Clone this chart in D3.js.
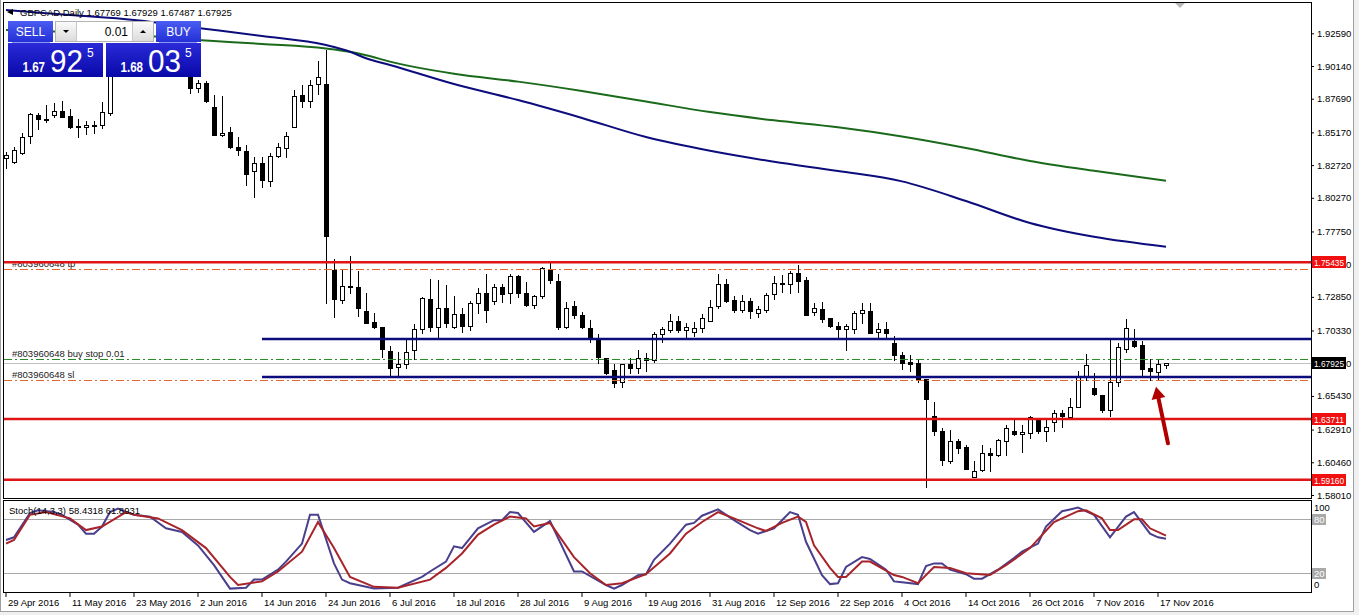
<!DOCTYPE html>
<html>
<head>
<meta charset="utf-8">
<script src="https://d3js.org/d3.v7.min.js"></script>
<style>
  body { margin: 0; background: #fff; }
  svg { display: block; font-family: "Liberation Sans", Arial, sans-serif; }
</style>
</head>
<body>
<div id="container"></div>
<script>
/* DATA */
const tickLabels = ["29 Apr 2016", "11 May 2016", "23 May 2016", "2 Jun 2016", "14 Jun 2016", "24 Jun 2016",
  "6 Jul 2016", "18 Jul 2016", "28 Jul 2016", "9 Aug 2016", "19 Aug 2016", "31 Aug 2016", "12 Sep 2016",
  "22 Sep 2016", "4 Oct 2016", "14 Oct 2016", "26 Oct 2016", "7 Nov 2016", "17 Nov 2016"]

const priceTicks = [1.92590, 1.90140, 1.87690, 1.85170, 1.82720, 1.80270, 1.77750, 1.75300,
  1.72850, 1.70330, 1.67880, 1.65430, 1.62910, 1.60460, 1.58010]

// daily OHLC, one entry per bar (29 Apr 2016 .. 18 Nov 2016)
const opens = [1.8325,1.8297,1.8365,1.8485,1.8647,1.8615,1.8652,1.8679,1.8640,1.8565,
  1.8552,1.8570,1.8570,1.8660,1.8962,1.8990,1.9030,1.9010,1.9070,1.9100,
  1.9150,1.9080,1.9020,1.8990,1.8847,1.8884,1.8705,1.8497,1.8518,1.8410,
  1.8377,1.8230,1.8290,1.8155,1.8340,1.8405,1.8559,1.8797,1.8754,1.8877,
  1.8879,1.7486,1.7261,1.7366,1.7357,1.7179,1.7094,1.7057,1.6879,1.6757,
  1.6782,1.6887,1.7042,1.7267,1.7057,1.7199,1.7057,1.7154,1.7067,1.7237,
  1.7312,1.7249,1.7357,1.7316,1.7441,1.7312,1.7224,1.7291,1.7486,1.7404,
  1.7057,1.7219,1.7147,1.7049,1.6967,1.6825,1.6737,1.6642,1.6780,1.6750,
  1.6825,1.6812,1.7004,1.7037,1.7104,1.7037,1.7016,1.7049,1.7106,1.7211,
  1.7379,1.7261,1.7187,1.7254,1.7162,1.7187,1.7304,1.7387,1.7379,1.7461,
  1.7411,1.7166,1.7192,1.7124,1.7067,1.7046,1.7049,1.7162,1.7179,1.7016,
  1.7042,1.6937,1.6849,1.6799,1.6787,1.6670,1.6393,1.6280,1.6058,1.6205,
  1.6163,1.5938,1.5983,1.6118,1.6100,1.6200,1.6280,1.6255,1.6263,1.6375,
  1.6280,1.6345,1.6413,1.6387,1.6462,1.6694,1.6600,1.6550,1.6438,1.6645,
  1.6892,1.6954,1.6924,1.6750,1.6720,1.67769]
const highs = [1.8370,1.8405,1.8510,1.8664,1.8664,1.8722,1.8735,1.8754,1.8692,1.8617,
  1.8604,1.8602,1.8744,1.8999,1.9020,1.9060,1.9080,1.9100,1.9140,1.9190,
  1.9210,1.9130,1.9060,1.9010,1.8909,1.8902,1.8797,1.8789,1.8555,1.8485,
  1.8422,1.8335,1.8335,1.8365,1.8435,1.8522,1.8834,1.8872,1.8909,1.9054,
  1.9134,1.7569,1.7491,1.7591,1.7479,1.7312,1.7162,1.7059,1.6917,1.6874,
  1.6962,1.7082,1.7286,1.7416,1.7411,1.7374,1.7291,1.7204,1.7256,1.7349,
  1.7454,1.7379,1.7379,1.7454,1.7449,1.7398,1.7299,1.7505,1.7548,1.7454,
  1.7249,1.7254,1.7174,1.7112,1.7007,1.6827,1.6780,1.6782,1.6825,1.6887,
  1.6867,1.7024,1.7061,1.7154,1.7142,1.7087,1.7099,1.7154,1.7261,1.7456,
  1.7416,1.7291,1.7299,1.7274,1.7216,1.7316,1.7441,1.7449,1.7481,1.7524,
  1.7431,1.7237,1.7244,1.7126,1.7099,1.7082,1.7181,1.7241,1.7241,1.7091,
  1.7099,1.6992,1.6874,1.6849,1.6817,1.6672,1.6500,1.6300,1.6288,1.6218,
  1.6175,1.6058,1.6175,1.6151,1.6218,1.6325,1.6363,1.6325,1.6393,1.6377,
  1.6363,1.6438,1.6438,1.6525,1.6730,1.6857,1.6717,1.6552,1.6962,1.6937,
  1.7119,1.7044,1.6954,1.6817,1.6812,1.67929]
const lows = [1.8250,1.8285,1.8353,1.8435,1.8542,1.8592,1.8634,1.8632,1.8547,1.8480,
  1.8502,1.8514,1.8547,1.8647,1.8940,1.8950,1.8970,1.8980,1.9020,1.9060,
  1.9050,1.8990,1.8950,1.8814,1.8822,1.8745,1.8495,1.8493,1.8400,1.8347,
  1.8123,1.8031,1.8110,1.8118,1.8335,1.8335,1.8555,1.8709,1.8709,1.8804,
  1.7237,1.7136,1.7241,1.7316,1.7142,1.7089,1.7052,1.6837,1.6700,1.6692,
  1.6750,1.6817,1.7012,1.7031,1.6987,1.7057,1.7049,1.7024,1.7037,1.7162,
  1.7099,1.7231,1.7249,1.7241,1.7282,1.7216,1.7199,1.7274,1.7391,1.7042,
  1.7049,1.7124,1.7049,1.6949,1.6787,1.6710,1.6608,1.6608,1.6717,1.6717,
  1.6732,1.6799,1.6949,1.7024,1.7024,1.6975,1.6992,1.7024,1.7104,1.7199,
  1.7247,1.7174,1.7174,1.7129,1.7136,1.7174,1.7269,1.7323,1.7316,1.7323,
  1.7147,1.7147,1.7099,1.7059,1.6987,1.6887,1.7012,1.7087,1.7014,1.6975,
  1.6975,1.6812,1.6742,1.6732,1.6650,1.5863,1.6250,1.6026,1.6043,1.6113,
  1.5994,1.5934,1.5981,1.5983,1.6095,1.6100,1.6253,1.6125,1.6226,1.6263,
  1.6208,1.6278,1.6312,1.6375,1.6458,1.6662,1.6550,1.6425,1.6393,1.6617,
  1.6874,1.6912,1.6687,1.6662,1.6662,1.67487]
const closes = [1.8347,1.8385,1.8485,1.8652,1.8615,1.8604,1.8679,1.8634,1.8559,1.8555,
  1.8570,1.8559,1.8667,1.8962,1.8990,1.9030,1.9010,1.9070,1.9100,1.9150,
  1.9080,1.9020,1.8990,1.8847,1.8884,1.8747,1.8497,1.8514,1.8402,1.8385,
  1.8203,1.8290,1.8160,1.8340,1.8405,1.8492,1.8792,1.8754,1.8872,1.8930,
  1.7741,1.7267,1.7366,1.7357,1.7199,1.7091,1.7054,1.6892,1.6754,1.6782,
  1.6870,1.7042,1.7274,1.7057,1.7199,1.7087,1.7154,1.7067,1.7237,1.7312,
  1.7187,1.7357,1.7306,1.7441,1.7312,1.7224,1.7291,1.7503,1.7411,1.7057,
  1.7199,1.7149,1.7057,1.6979,1.6832,1.6712,1.6642,1.6780,1.6750,1.6825,
  1.6807,1.7004,1.7042,1.7104,1.7037,1.7057,1.7049,1.7124,1.7211,1.7379,
  1.7249,1.7187,1.7256,1.7181,1.7192,1.7299,1.7387,1.7376,1.7461,1.7398,
  1.7149,1.7199,1.7119,1.7061,1.7046,1.7067,1.7166,1.7187,1.7016,1.7042,
  1.7012,1.6849,1.6787,1.6787,1.6662,1.6518,1.6282,1.6063,1.6205,1.6155,
  1.5996,1.5983,1.6113,1.6106,1.6213,1.6300,1.6255,1.6273,1.6383,1.6274,
  1.6308,1.6413,1.6387,1.6462,1.6694,1.6775,1.6557,1.6438,1.6645,1.6907,
  1.7049,1.6919,1.6745,1.6724,1.6782,1.67925]

// moving averages, read at every 8th bar
const maBars  = [0, 8, 16, 24, 32, 40, 43, 45, 48, 56, 64, 72, 80, 88, 96, 104, 112, 120, 128, 136, 145]
const maNavy  = [1.9433,1.9396,1.9359,1.9299,1.9239,1.9171,1.9121,1.9072,1.9022,1.8879,1.8759,1.8625,1.8482,1.8379,1.8297,1.8228,1.8150,1.8003,1.7838,1.7735,1.7661]
const maGreen = [1.9284,1.9269,1.9246,1.9209,1.9179,1.9145,1.9120,1.9095,1.9047,1.8956,1.8897,1.8827,1.8748,1.8669,1.8607,1.8555,1.8486,1.8400,1.8303,1.8229,1.8155]

// stochastic (14,3,3): [bar, value]
const stochK = [[0,57],[1,60],[3,87],[4,90],[6,88],[7,85],[9,74],[10,64],[11,64],[12,72],[13,88],[14,92],[15,88],[16,85],[18,83],[20,70],[22,66],[24,51],[26,29],[28,3],[30,4],[31,13],[32,13],[34,24],[35,33],[37,53],[38,85],[39,85],[41,31],[42,13],[43,9],[46,3],[49,4],[52,16],[53,22],[55,33],[56,50],[57,48],[59,70],[61,79],[62,79],[63,88],[64,87],[66,66],[68,78],[71,22],[72,22],[75,7],[76,3],[77,7],[79,18],[80,19],[81,35],[83,53],[85,74],[86,76],[87,84],[89,91],[91,79],[93,68],[94,64],[96,70],[97,79],[98,88],[99,85],[100,55],[102,18],[103,8],[104,9],[105,27],[107,38],[108,36],[110,24],[111,11],[112,10],[114,8],[115,28],[116,31],[117,31],[118,24],[120,19],[121,14],[122,14],[124,24],[126,37],[127,44],[129,53],[130,72],[132,89],[133,91],[134,93],[136,85],[138,60],[140,83],[141,88],[143,64],[144,60],[145,58.43]]
const stochD = [[0,53],[1,57],[3,85],[5,88],[8,81],[10,68],[12,72],[15,88],[16,85],[19,81],[22,68],[25,48],[28,16],[29,7],[32,11],[34,22],[37,44],[39,77],[41,48],[43,16],[46,5],[49,4],[53,13],[55,26],[56,34],[57,42],[59,63],[61,74],[63,83],[65,81],[66,72],[68,76],[71,38],[73,20],[75,7],[77,9],[80,19],[83,42],[85,64],[87,77],[89,88],[91,81],[94,70],[95,67],[97,76],[99,83],[100,77],[101,51],[103,26],[104,16],[105,16],[107,33],[108,33],[111,18],[112,16],[114,9],[116,27],[118,26],[120,20],[123,18],[125,29],[128,48],[131,77],[134,89],[135,90],[137,81],[138,68],[139,68],[141,80],[142,80],[143,70],[145,61.89]]

// horizontal price levels
const redLevels = [1.75435, 1.63711, 1.59160]
const orderLevels = [
  { name: "#803960648 tp", price: 1.7496, color: "#e2692e" },
  { name: "#803960648 buy stop 0.01", price: 1.6817, color: "#2a8a2a" },
  { name: "#803960648 sl", price: 1.6660, color: "#e2692e" }
]
const trendLevels = [1.6970, 1.66849]
const bid = 1.67925

/* CONSTANTS */
const width = 1359
const height = 615
const frame = { left: 4, right: 1311, top: 3, bottom: 498 }
const sub = { top: 501, bottom: 592 }

/* SCALES */
const x = d3.scaleBand()
  .domain(d3.range(opens.length))
  .range([2, 2 + opens.length * 8])
const cx = i => Math.round(x(0) + x.bandwidth() / 2 + i * x.step())

const y = d3.scaleLinear()
  .domain([1.58010, 1.92590])
  .range([495, 33.3])

const yS = d3.scaleLinear()
  .domain([0, 100])
  .range([591.3, 501.3])

/* SVG */
const svg = d3.select("#container")
  .append("svg")
  .attr("width", width)
  .attr("height", height)

const defs = svg.append("defs")
defs.append("clipPath").attr("id", "clipMain").append("rect")
  .attr("x", frame.left).attr("y", frame.top)
  .attr("width", frame.right - frame.left).attr("height", frame.bottom - frame.top)
defs.append("clipPath").attr("id", "clipSub").append("rect")
  .attr("x", frame.left).attr("y", sub.top)
  .attr("width", frame.right - frame.left).attr("height", sub.bottom - sub.top)

function grad(id, c1, c2) {
  const g = defs.append("linearGradient").attr("id", id).attr("x1", 0).attr("y1", 0).attr("x2", 0).attr("y2", 1)
  g.append("stop").attr("offset", "0%").attr("stop-color", c1)
  g.append("stop").attr("offset", "100%").attr("stop-color", c2)
}
grad("btn", "#4a5cf2", "#2430d6")
grad("px", "#2a2ad8", "#0808a8")
grad("spin", "#fafafa", "#dcdcdc")

// window edges
svg.append("rect").attr("x", 1354).attr("y", 0).attr("width", 5).attr("height", height).attr("fill", "#f0f0f0")
svg.append("line").attr("x1", 1353.5).attr("x2", 1353.5).attr("y1", 0).attr("y2", 612).attr("stroke", "#a0a0a0")
svg.append("rect").attr("x", 0).attr("y", 612).attr("width", width).attr("height", 3).attr("fill", "#f0f0f0")
svg.append("line").attr("x1", 0).attr("x2", 1354).attr("y1", 611.5).attr("y2", 611.5).attr("stroke", "#a0a0a0")
svg.append("line").attr("x1", 0.5).attr("x2", 0.5).attr("y1", 0).attr("y2", 612).attr("stroke", "#a0a0a0")

/* MAIN PANEL */
const gMain = svg.append("g").attr("clip-path", "url(#clipMain)")

// bid line
gMain.append("line")
  .attr("x1", frame.left).attr("x2", frame.right)
  .attr("y1", Math.round(y(bid)) + 0.5).attr("y2", Math.round(y(bid)) + 0.5)
  .attr("stroke", "#c0c0c0")

// candles
const bars = opens.map((o, i) => ({ i, o, h: highs[i], l: lows[i], c: closes[i] }))

gMain.selectAll("line.wick")
  .data(bars)
  .join("line")
  .attr("class", "wick")
  .attr("x1", d => cx(d.i) + 0.5).attr("x2", d => cx(d.i) + 0.5)
  .attr("y1", d => Math.round(y(d.h))).attr("y2", d => Math.round(y(d.l)) + 1)
  .attr("stroke", "#000")

gMain.selectAll("rect.body")
  .data(bars)
  .join("rect")
  .attr("class", "body")
  .attr("x", d => cx(d.i) - 1.5)
  .attr("width", 4)
  .attr("y", d => Math.round(y(Math.max(d.o, d.c))) + 0.5)
  .attr("height", d => Math.max(1, Math.round(Math.abs(y(d.o) - y(d.c)))))
  .attr("fill", d => d.c >= d.o ? "#fff" : "#000")
  .attr("stroke", "#000")

// moving averages
const maLine = d3.line()
  .x(d => cx(d[0]))
  .y(d => y(d[1]))
  .curve(d3.curveMonotoneX)

gMain.append("path")
  .datum(maBars.map((b, k) => [b, maGreen[k]]))
  .attr("d", maLine).attr("fill", "none").attr("stroke", "#1b6a1b").attr("stroke-width", 2)
gMain.append("path")
  .datum(maBars.map((b, k) => [b, maNavy[k]]))
  .attr("d", maLine).attr("fill", "none").attr("stroke", "#0c0c7c").attr("stroke-width", 2)

// order lines (dash dot)
gMain.selectAll("line.order")
  .data(orderLevels)
  .join("line")
  .attr("class", "order")
  .attr("x1", frame.left).attr("x2", frame.right)
  .attr("y1", d => Math.round(y(d.price)) + 0.5).attr("y2", d => Math.round(y(d.price)) + 0.5)
  .attr("stroke", d => d.color)
  .attr("stroke-dasharray", "8,3,2,3")

gMain.selectAll("text.order")
  .data(orderLevels)
  .join("text")
  .attr("class", "order")
  .attr("x", 12)
  .attr("y", d => Math.round(y(d.price)) - 2)
  .attr("font-size", 9.5)
  .attr("fill", "#222")
  .text(d => d.name)

// trend lines
gMain.selectAll("line.trend")
  .data(trendLevels)
  .join("line")
  .attr("class", "trend")
  .attr("x1", cx(32)).attr("x2", frame.right)
  .attr("y1", d => y(d)).attr("y2", d => y(d))
  .attr("stroke", "#0c0c7c").attr("stroke-width", 2.5)

// support / resistance
gMain.selectAll("line.red")
  .data(redLevels)
  .join("line")
  .attr("class", "red")
  .attr("x1", frame.left).attr("x2", frame.right)
  .attr("y1", d => y(d)).attr("y2", d => y(d))
  .attr("stroke", "#e01414").attr("stroke-width", 2.5)

// arrow annotation pointing at the last bars
const tail = [cx(145.3), y(1.6188)]
const tip = [cx(143.8), y(1.6612)]
const ang = Math.atan2(tip[1] - tail[1], tip[0] - tail[0])
const base = [tip[0] - 12 * Math.cos(ang), tip[1] - 12 * Math.sin(ang)]
gMain.append("line")
  .attr("x1", tail[0]).attr("y1", tail[1]).attr("x2", base[0]).attr("y2", base[1])
  .attr("stroke", "#b00000").attr("stroke-width", 4).attr("stroke-linecap", "round")
gMain.append("polygon")
  .attr("points", [
    tip,
    [base[0] + 7 * Math.sin(ang), base[1] - 7 * Math.cos(ang)],
    [base[0] - 7 * Math.sin(ang), base[1] + 7 * Math.cos(ang)]
  ].map(p => p.join(",")).join(" "))
  .attr("fill", "#b00000")

// title
svg.append("path").attr("d", "M7,12 L13,9 L13,15 Z").attr("fill", "#000")
svg.append("text")
  .attr("x", 20).attr("y", 16)
  .attr("font-size", 9.5)
  .text("GBPCAD,Daily  1.67769 1.67929 1.67487 1.67925")

// shift marker
svg.append("path").attr("d", "M1175,3 L1185,3 L1180,8 Z").attr("fill", "#b8b8b8")

// frames
svg.append("rect")
  .attr("x", frame.left - 0.5).attr("y", frame.top - 0.5)
  .attr("width", frame.right - frame.left + 1).attr("height", frame.bottom - frame.top + 1)
  .attr("fill", "none").attr("stroke", "#000")
svg.append("rect")
  .attr("x", frame.left - 0.5).attr("y", sub.top - 0.5)
  .attr("width", frame.right - frame.left + 1).attr("height", sub.bottom - sub.top + 1)
  .attr("fill", "none").attr("stroke", "#000")

// price axis
const yAxis = d3.axisRight(y)
  .tickValues(priceTicks)
  .tickSize(3)
  .tickPadding(3)
  .tickFormat(d3.format(".5f"))
svg.append("g")
  .attr("transform", `translate(${frame.right},0)`)
  .call(yAxis)
  .call(g => g.select(".domain").remove())
  .call(g => g.selectAll("text").attr("font-size", 9.5).attr("font-family", "Liberation Sans, Arial, sans-serif").attr("fill", "#000"))

// price boxes
const boxes = redLevels.map(p => ({ p, fill: "#f01010" })).concat([{ p: bid, fill: "#000" }])
const gBox = svg.append("g")
gBox.selectAll("rect")
  .data(boxes)
  .join("rect")
  .attr("x", frame.right + 1).attr("width", 34)
  .attr("y", d => Math.round(y(d.p)) - 6).attr("height", 12)
  .attr("fill", d => d.fill)
gBox.selectAll("text")
  .data(boxes)
  .join("text")
  .attr("x", frame.right + 3)
  .attr("y", d => Math.round(y(d.p)) + 4)
  .attr("font-size", 9.5).attr("fill", "#fff")
  .attr("textLength", 30).attr("lengthAdjust", "spacingAndGlyphs")
  .text(d => d3.format(".5f")(d.p))

/* STOCHASTIC PANEL */
const gSub = svg.append("g").attr("clip-path", "url(#clipSub)")
gSub.selectAll("line.level")
  .data([80, 20])
  .join("line")
  .attr("class", "level")
  .attr("x1", frame.left).attr("x2", frame.right)
  .attr("y1", d => Math.round(yS(d)) + 0.5).attr("y2", d => Math.round(yS(d)) + 0.5)
  .attr("stroke", "#a8a8a8")

const stLine = d3.line()
  .x(d => cx(d[0]))
  .y(d => yS(d[1]))

gSub.append("path").datum(stochK)
  .attr("d", stLine).attr("fill", "none").attr("stroke", "#4a3f8c").attr("stroke-width", 2)
gSub.append("path").datum(stochD)
  .attr("d", stLine).attr("fill", "none").attr("stroke", "#a8242a").attr("stroke-width", 2)

svg.append("text")
  .attr("x", 9).attr("y", 514)
  .attr("font-size", 9.5)
  .text("Stoch(14,3,3) 58.4318 61.8931")

// stochastic scale labels
svg.append("text").attr("x", frame.right + 3).attr("y", yS(100) + 10).attr("font-size", 9.5).text("100")
svg.append("text").attr("x", frame.right + 3).attr("y", yS(0) - 3).attr("font-size", 9.5).text("0")
const lv = svg.append("g")
lv.selectAll("rect")
  .data([80, 20])
  .join("rect")
  .attr("x", frame.right + 1).attr("width", 14)
  .attr("y", d => Math.round(yS(d)) - 5).attr("height", 11)
  .attr("fill", "#a8a8a8")
lv.selectAll("text")
  .data([80, 20])
  .join("text")
  .attr("x", frame.right + 3)
  .attr("y", d => Math.round(yS(d)) + 4)
  .attr("font-size", 9.5).attr("fill", "#fff")
  .text(d => d)

/* TIME AXIS */
const xAxis = d3.axisBottom(x)
  .tickValues(d3.range(0, opens.length, 8))
  .tickFormat(i => tickLabels[i / 8])
  .tickSize(5)
  .tickPadding(2)
svg.append("g")
  .attr("transform", `translate(0,${sub.bottom})`)
  .call(xAxis)
  .call(g => g.select(".domain").remove())
  .call(g => g.selectAll("text")
    .attr("text-anchor", "start").attr("dx", 2)
    .attr("font-size", 9.5).attr("font-family", "Liberation Sans, Arial, sans-serif").attr("fill", "#000"))

/* ONE CLICK TRADING PANEL */
const panel = svg.append("g")
// sell / buy buttons
panel.append("rect").attr("x", 8).attr("y", 21).attr("width", 45).attr("height", 21).attr("fill", "url(#btn)")
panel.append("rect").attr("x", 156).attr("y", 21).attr("width", 45).attr("height", 21).attr("fill", "url(#btn)")
panel.append("line").attr("x1", 12).attr("x2", 50).attr("y1", 42.5).attr("y2", 42.5).attr("stroke", "#8c96f0")
panel.append("line").attr("x1", 159).attr("x2", 197).attr("y1", 42.5).attr("y2", 42.5).attr("stroke", "#8c96f0")
panel.append("text").attr("x", 30.5).attr("y", 36).attr("text-anchor", "middle")
  .attr("font-size", 12).attr("fill", "#fff").text("SELL")
panel.append("text").attr("x", 178.5).attr("y", 36).attr("text-anchor", "middle")
  .attr("font-size", 12).attr("fill", "#fff").text("BUY")

// lot spinner
panel.append("rect").attr("x", 55.5).attr("y", 21.5).attr("width", 98).attr("height", 20)
  .attr("fill", "#fff").attr("stroke", "#b4b4b4")
panel.append("rect").attr("x", 56).attr("y", 22).attr("width", 20).attr("height", 19).attr("fill", "url(#spin)")
panel.append("rect").attr("x", 133).attr("y", 22).attr("width", 20).attr("height", 19).attr("fill", "url(#spin)")
panel.append("line").attr("x1", 76.5).attr("x2", 76.5).attr("y1", 22).attr("y2", 41).attr("stroke", "#c8c8c8")
panel.append("line").attr("x1", 132.5).attr("x2", 132.5).attr("y1", 22).attr("y2", 41).attr("stroke", "#c8c8c8")
panel.append("path").attr("d", "M63,30 L69,30 L66,33 Z").attr("fill", "#000")
panel.append("path").attr("d", "M140,33 L146,33 L143,30 Z").attr("fill", "#000")
panel.append("text").attr("x", 128).attr("y", 36).attr("text-anchor", "end")
  .attr("font-size", 12).attr("fill", "#000").text("0.01")

// price tiles
const quotes = [
  { x: 8, big: "1.67", main: "92", pip: "5" },
  { x: 106, big: "1.68", main: "03", pip: "5" }
]
const tiles = panel.selectAll("g.tile")
  .data(quotes)
  .join("g")
  .attr("class", "tile")
  .attr("transform", d => `translate(${d.x},43)`)
tiles.append("rect").attr("width", 95).attr("height", 34).attr("fill", "url(#px)")
tiles.append("text").attr("x", 14.5).attr("y", 28.5)
  .attr("font-size", 15).attr("font-weight", "bold").attr("fill", "#fff")
  .attr("textLength", 22.5).attr("lengthAdjust", "spacingAndGlyphs")
  .text(d => d.big)
tiles.append("text").attr("x", 42).attr("y", 28.5)
  .attr("font-size", 32).attr("fill", "#fff")
  .attr("textLength", 33).attr("lengthAdjust", "spacingAndGlyphs")
  .text(d => d.main)
tiles.append("text").attr("x", 79).attr("y", 13.5)
  .attr("font-size", 12).attr("fill", "#fff")
  .text(d => d.pip)
</script>
</body>
</html>
